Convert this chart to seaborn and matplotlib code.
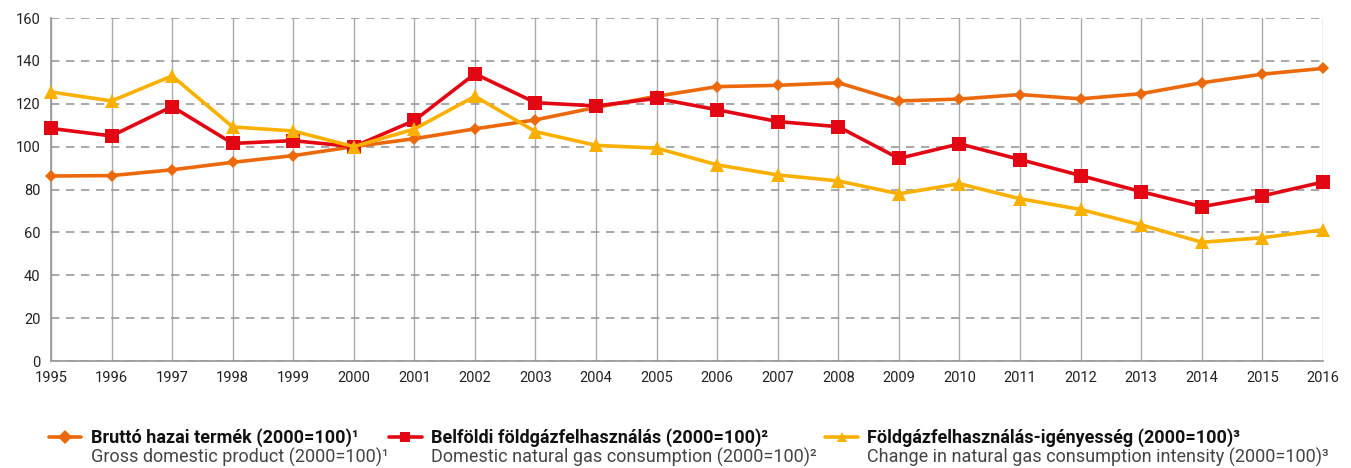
import matplotlib
matplotlib.use("Agg")
import matplotlib.pyplot as plt
from matplotlib.lines import Line2D
import pandas as pd
import seaborn as sns

years = list(range(1995, 2017))
gdp = [86.3, 86.5, 89.2, 92.7, 95.8, 100.0, 103.7, 108.3, 112.5, 118.3, 123.5, 128.0,
       128.6, 129.8, 121.3, 122.2, 124.3, 122.3, 124.7, 129.8, 133.8, 136.5]
gas = [108.5, 105.0, 118.7, 101.5, 102.8, 100.0, 112.2, 134.0, 120.5, 119.0, 122.5, 117.2,
       111.7, 109.3, 94.5, 101.3, 94.0, 86.5, 79.0, 72.0, 77.0, 83.5]
intensity = [125.5, 121.3, 133.0, 109.2, 107.3, 100.0, 108.2, 123.5, 107.0, 100.6, 99.3, 91.5,
             86.8, 84.0, 78.0, 82.7, 75.7, 70.7, 63.5, 55.4, 57.5, 61.2]

series_hu = ["Bruttó hazai termék (2000=100)", "Belföldi földgázfelhasználás (2000=100)",
             "Földgázfelhasználás-igényesség (2000=100)"]
series_en = ["Gross domestic product (2000=100)", "Domestic natural gas consumption (2000=100)",
             "Change in natural gas consumption intensity (2000=100)"]
notes = ["¹", "²", "³"]
colors = ["#EB690B", "#E30613", "#F9B000"]
markers = ["D", "s", "^"]
msizes = [6.5, 10, 10]

df = pd.concat([
    pd.DataFrame({"year": years, "value": vals, "series": name})
    for vals, name in zip([gdp, gas, intensity], series_hu)
])

sns.set_theme(style="white")
plt.rcParams["font.family"] = ["Roboto", "DejaVu Sans"]

fig = plt.figure(figsize=(13.51, 4.68), dpi=100)
ax = fig.add_axes([0.0377, 0.2286, 0.9415, 0.7329])

for name, col, mk, ms in zip(series_hu, colors, markers, msizes):
    sns.lineplot(data=df[df["series"] == name], x="year", y="value", color=col,
                 marker=mk, markersize=ms, markeredgewidth=0, linewidth=2.6,
                 ax=ax, legend=False, zorder=3, clip_on=False)

ax.set_xlim(1995, 2016)
ax.set_ylim(0, 160)
ax.set_xticks(years)
ax.set_yticks(range(0, 161, 20))
ax.set_xlabel("")
ax.set_ylabel("")
ax.tick_params(axis="both", labelsize=10.5, labelcolor="#222222", length=4, width=0.8,
               color="#999999")
ax.tick_params(axis="x", pad=3)
ax.yaxis.grid(True, color="#999999", linestyle=(0, (5, 4)), linewidth=1.2)
ax.xaxis.grid(True, color="#AAAAAA", linestyle="-", linewidth=1)
for s in ["top", "right"]:
    ax.spines[s].set_visible(False)
ax.spines["left"].set_color("#999999")
ax.spines["bottom"].set_color("#999999")

# custom two-line legend below the plot
handle_x = [0.036, 0.288, 0.611]
for hx, col, mk, hu, en, n in zip(handle_x, colors, markers, series_hu, series_en, notes):
    fig.add_artist(Line2D([hx, hx + 0.024], [0.066, 0.066], transform=fig.transFigure,
                          color=col, linewidth=2.6))
    fig.add_artist(Line2D([hx + 0.012], [0.066], transform=fig.transFigure, color=col,
                          marker=mk, markersize=7, markeredgewidth=0))
    fig.text(hx + 0.031, 0.066, hu + n, fontsize=13, fontweight="bold", color="#111111",
             va="center", ha="left")
    fig.text(hx + 0.031, 0.022, en + n, fontsize=13, color="#444444", va="center", ha="left")

fig.savefig("out.png", dpi=100)
